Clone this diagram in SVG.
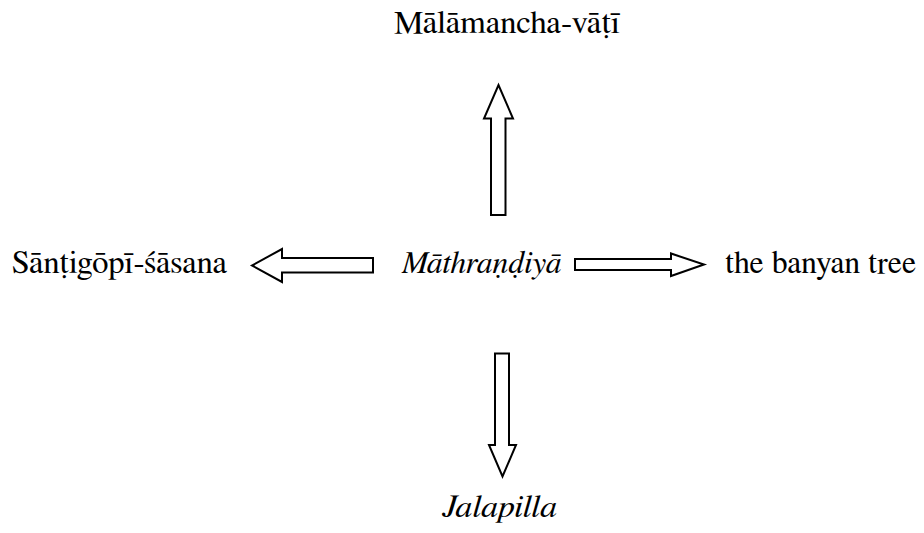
<svg xmlns="http://www.w3.org/2000/svg" width="924" height="533" viewBox="0 0 924 533">
<style>
.t{font-family:"Nimbus Roman","FreeSerif","DejaVu Serif",serif;font-size:32px;fill:#000}
.i{font-style:italic}
.a{fill:#fff;stroke:#000;stroke-width:2;stroke-linejoin:miter}
</style>
<rect width="924" height="533" fill="#fff"/>
<g id="connectors">
<polygon class="a" points="491,215 491,118.5 484,118.5 498.5,85 513,118.5 505.5,118.5 505.5,215"/>
<polygon class="a" points="495,353.5 509,353.5 509,445 516,445 502.5,476.5 489,445 495,445"/>
<polygon class="a" points="373,258 282,258 282,249 252,265.5 282,282 282,272.5 373,272.5"/>
<polygon class="a" points="575,259 671,259 671,253.5 704,264.5 671,276 671,270 575,270"/>
</g>
<g id="node-center"><text class="t i" x="401.5" y="273" textLength="160" lengthAdjust="spacingAndGlyphs">Māthraṇḍiyā</text></g>
<g id="node-top"><text class="t" x="394" y="33" textLength="226" lengthAdjust="spacingAndGlyphs">Mālāmancha-vāṭī</text></g>
<g id="node-left"><text class="t" x="12" y="273" textLength="215" lengthAdjust="spacingAndGlyphs">Sānṭigōpī-śāsana</text></g>
<g id="node-right"><text class="t" x="725" y="273" textLength="191" lengthAdjust="spacingAndGlyphs">the banyan tree</text></g>
<g id="node-bottom"><text class="t i" x="442" y="517" textLength="115" lengthAdjust="spacingAndGlyphs">Jalapilla</text></g>
</svg>
